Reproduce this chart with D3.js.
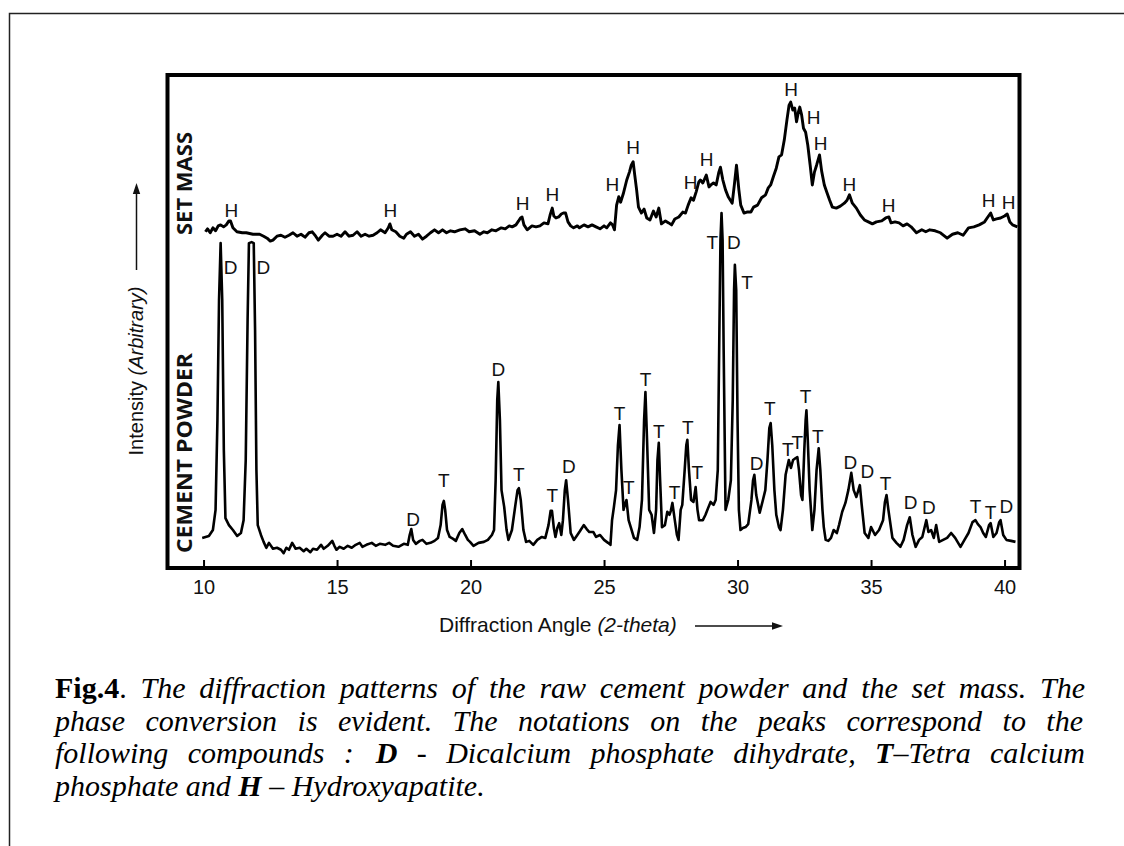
<!DOCTYPE html>
<html>
<head>
<meta charset="utf-8">
<script src="https://cdn.jsdelivr.net/npm/d3@7"></script>
<style>
html, body { margin: 0; padding: 0; background: #fff; }
svg { display: block; }
</style>
</head>
<body>
<svg id="chart" width="1124" height="846"></svg>
<script>
'use strict';

/* global d3 */

// diffraction angle (2-theta) ticks
var xTicks = [10, 15, 20, 25, 30, 35, 40];

// [2-theta, intensity (arbitrary, stacked)]
var cementPowder = [
    [9.95, 6.1], [10.2, 6.5], [10.35, 7.7], [10.45, 11.8], [10.52, 30], [10.58, 54.4], [10.64, 65.9],
    [10.70, 54.4], [10.76, 23.9], [10.82, 10.1], [10.95, 8.7], [11.1, 7.7], [11.26, 6.5], [11.4, 7.1],
    [11.5, 9.7], [11.58, 21.9], [11.65, 50.3], [11.70, 65.9], [11.80, 66.1], [11.88, 65.9], [11.93, 48.3],
    [11.98, 19.9], [12.03, 8.7], [12.15, 6.7], [12.25, 5.3], [12.35, 4.1], [12.45, 5.1], [12.6, 3.9],
    [12.75, 4.1], [12.9, 3.7], [13.0, 3.0], [13.1, 4.1], [13.2, 3.7], [13.32, 5.1], [13.45, 3.9],
    [13.6, 4.1], [13.75, 3.4], [13.85, 3.9], [14.0, 3.2], [14.1, 3.9], [14.25, 3.7], [14.4, 4.7],
    [14.5, 3.9], [14.65, 4.5], [14.82, 5.5], [14.9, 4.5], [14.98, 3.7], [15.1, 4.3], [15.25, 3.9],
    [15.4, 4.5], [15.55, 4.1], [15.7, 4.7], [15.85, 5.1], [15.95, 4.3], [16.1, 4.7], [16.3, 5.1],
    [16.45, 4.5], [16.6, 4.9], [16.8, 4.7], [16.95, 5.1], [17.1, 4.5], [17.3, 4.3], [17.5, 4.9],
    [17.65, 4.7], [17.72, 6.7], [17.78, 7.9], [17.85, 5.7], [17.95, 4.9], [18.1, 5.5], [18.2, 5.7],
    [18.35, 4.9], [18.5, 5.1], [18.65, 5.5], [18.78, 6.1], [18.88, 8.7], [18.95, 12.8], [19.0, 13.6],
    [19.05, 11.8], [19.12, 7.7], [19.22, 6.3], [19.35, 5.9], [19.45, 5.5], [19.58, 7.1], [19.69, 7.9],
    [19.8, 6.7], [19.9, 5.7], [19.98, 5.3], [20.11, 4.5], [20.3, 5.1], [20.5, 5.3], [20.65, 5.7],
    [20.8, 6.7], [20.88, 7.7], [20.94, 17.8], [21.0, 34.1], [21.04, 37.7], [21.1, 30], [21.16, 15.8],
    [21.26, 12.4], [21.35, 7.7], [21.42, 5.7], [21.55, 7.7], [21.68, 12.8], [21.76, 15.8], [21.81, 16.2],
    [21.88, 13.8], [21.98, 7.7], [22.08, 5.3], [22.2, 5.5], [22.35, 4.7], [22.5, 5.7], [22.67, 6.3],
    [22.8, 6.1], [22.92, 8.7], [23.0, 11.6], [23.05, 11.6], [23.12, 8.1], [23.18, 6.3], [23.25, 8.1],
    [23.32, 9.1], [23.4, 6.7], [23.46, 9.7], [23.53, 15.8], [23.58, 17.8], [23.65, 13.8], [23.75, 7.1],
    [23.87, 5.7], [24.0, 6.7], [24.1, 7.5], [24.24, 8.7], [24.35, 7.9], [24.45, 7.3], [24.6, 7.3],
    [24.7, 6.3], [24.85, 6.7], [25.0, 5.7], [25.15, 5.1], [25.24, 4.7], [25.3, 9.7], [25.37, 12.4],
    [25.45, 15.8], [25.52, 24.9], [25.58, 29], [25.65, 19.9], [25.73, 11.8], [25.78, 12.8], [25.84, 13.8],
    [25.92, 9.7], [26.0, 8.3], [26.12, 6.1], [26.24, 5.7], [26.33, 8.3], [26.42, 13.8], [26.5, 30],
    [26.55, 35.7], [26.61, 26], [26.69, 11.8], [26.78, 10.8], [26.87, 7.1], [26.95, 11.8], [27.0, 21.9],
    [27.05, 25.4], [27.1, 17.8], [27.17, 8.3], [27.28, 8.7], [27.37, 11.4], [27.45, 10.8], [27.5, 11.6],
    [27.56, 13.2], [27.65, 9.7], [27.73, 6.7], [27.79, 5.7], [27.87, 11.8], [27.93, 12.8], [28.02, 19.9],
    [28.08, 24.9], [28.12, 26], [28.18, 19.9], [28.26, 13.8], [28.35, 13.4], [28.43, 16.4], [28.5, 11.8],
    [28.56, 9.7], [28.7, 9.7], [28.8, 10.8], [28.9, 12.2], [28.99, 13.4], [29.1, 12.8], [29.18, 13.8],
    [29.26, 19.9], [29.32, 48.3], [29.36, 66.5], [29.40, 72], [29.44, 66.5], [29.48, 44.2], [29.55, 11.8],
    [29.65, 13.8], [29.75, 17.8], [29.82, 34.1], [29.87, 56.4], [29.9, 61.5], [29.95, 56.4], [30.0, 30],
    [30.05, 11.8], [30.11, 7.7], [30.2, 8.1], [30.3, 8.3], [30.4, 8.9], [30.52, 13.8], [30.58, 17.8],
    [30.63, 18.9], [30.7, 14.8], [30.83, 11.2], [30.95, 13.8], [31.04, 15.8], [31.12, 21.9], [31.19, 28.4],
    [31.24, 29.4], [31.3, 24.9], [31.38, 15.8], [31.45, 10.8], [31.55, 8.3], [31.61, 7.7], [31.7, 11.8],
    [31.8, 18.9], [31.92, 21.9], [32.0, 20.3], [32.08, 21.9], [32.18, 22.3], [32.24, 22.5], [32.3, 19.9],
    [32.38, 14.8], [32.43, 13.8], [32.5, 23.9], [32.55, 30], [32.58, 32], [32.63, 26], [32.7, 15.8],
    [32.8, 7.7], [32.88, 11.8], [32.96, 19.9], [33.04, 24.3], [33.1, 19.9], [33.18, 11.8], [33.23, 8.3],
    [33.3, 5.7], [33.4, 5.5], [33.5, 6.1], [33.6, 7.7], [33.72, 7.1], [33.8, 8.7], [33.92, 11.4],
    [34.04, 13.2], [34.15, 15.8], [34.26, 19.3], [34.35, 15.8], [34.45, 14.4], [34.58, 16.8], [34.65, 12.8],
    [34.76, 7.1], [34.9, 6.1], [35.0, 8.3], [35.15, 6.7], [35.3, 7.7], [35.45, 9.7], [35.52, 13.4],
    [35.58, 14.8], [35.65, 11.8], [35.8, 6.1], [35.95, 5.1], [36.1, 4.3], [36.22, 5.7], [36.35, 8.7],
    [36.45, 10.3], [36.55, 6.7], [36.67, 4.3], [36.8, 5.7], [36.92, 6.3], [37.07, 9.7], [37.15, 7.3],
    [37.25, 7.7], [37.35, 6.1], [37.44, 8.7], [37.55, 5.3], [37.7, 5.7], [37.85, 6.1], [38.0, 7.1],
    [38.15, 6.1], [38.35, 4.3], [38.5, 5.7], [38.65, 7.1], [38.8, 9.3], [38.91, 9.7], [39.0, 8.9],
    [39.1, 8.3], [39.2, 7.1], [39.3, 6.3], [39.42, 8.7], [39.48, 9.1], [39.58, 6.3], [39.7, 7.1],
    [39.8, 9.3], [39.85, 9.7], [39.95, 6.7], [40.07, 5.7], [40.25, 5.5], [40.41, 5.3]
];

var setMass = [
    [10.07, 68.2], [10.15, 68.8], [10.25, 68], [10.35, 69], [10.45, 68.4], [10.55, 69.4], [10.64, 69.6],
    [10.75, 69.2], [10.85, 69.6], [10.95, 70.4], [11.01, 70.4], [11.1, 69], [11.25, 68.2], [11.45, 68],
    [11.6, 68], [11.85, 67.7], [12.1, 67.7], [12.25, 67.3], [12.38, 66.9], [12.5, 66.3], [12.6, 66.5],
    [12.75, 67.3], [12.9, 67.5], [13.05, 67.1], [13.2, 67.5], [13.35, 68], [13.5, 67.3], [13.65, 67.7],
    [13.8, 67.1], [13.95, 68], [14.07, 68.2], [14.2, 67.3], [14.3, 66.5], [14.45, 67.5], [14.55, 68],
    [14.7, 67.3], [14.85, 67.3], [15.0, 67.7], [15.15, 67.3], [15.3, 68.2], [15.45, 67.3], [15.6, 67.5],
    [15.75, 68.2], [15.9, 67.3], [16.05, 67.7], [16.2, 67.3], [16.35, 67.5], [16.5, 68], [16.63, 68.6],
    [16.8, 68], [16.92, 69], [16.98, 69.8], [17.05, 68.6], [17.2, 68.2], [17.35, 67.3], [17.5, 66.9],
    [17.6, 67.7], [17.75, 68.2], [17.9, 67.3], [18.05, 67.7], [18.2, 66.7], [18.35, 67.3], [18.5, 68],
    [18.65, 68.6], [18.8, 68], [18.95, 68.6], [19.1, 68], [19.25, 68.4], [19.4, 68.2], [19.6, 68.6],
    [19.8, 68.8], [19.95, 68.2], [20.15, 68.4], [20.35, 67.7], [20.5, 68.2], [20.63, 68], [20.8, 68.6],
    [20.95, 68.4], [21.15, 69], [21.3, 68.8], [21.45, 69.4], [21.56, 69.2], [21.7, 69.6], [21.8, 70.4],
    [21.87, 71], [21.93, 71.2], [22.0, 69.6], [22.12, 68.6], [22.3, 69.4], [22.45, 69.2], [22.6, 69.4],
    [22.75, 70], [22.9, 69.8], [22.98, 71.6], [23.06, 73], [23.12, 71.4], [23.2, 71], [23.3, 71.2],
    [23.4, 71.8], [23.48, 72], [23.56, 72], [23.65, 70.2], [23.75, 69.4], [23.86, 69], [24.0, 69.4],
    [24.08, 69], [24.25, 69.6], [24.4, 69.2], [24.55, 69.6], [24.7, 69.2], [24.85, 68.8], [25.0, 69.4],
    [25.1, 69], [25.24, 70], [25.32, 69.6], [25.39, 68.6], [25.47, 73.6], [25.55, 75.3], [25.62, 74.2],
    [25.72, 75.9], [25.85, 78.7], [25.95, 80.3], [26.02, 81.7], [26.09, 82.4], [26.15, 79.7], [26.22, 76.7],
    [26.29, 73.2], [26.4, 72], [26.5, 72.8], [26.6, 71], [26.72, 70.6], [26.85, 72.4], [26.95, 71.2],
    [27.05, 73], [27.15, 69.8], [27.3, 70.4], [27.42, 70], [27.53, 69.6], [27.65, 70.8], [27.8, 71.2],
    [27.95, 72.2], [28.05, 72], [28.15, 73.6], [28.26, 75.1], [28.35, 74.6], [28.45, 76.3], [28.55, 78.3],
    [28.61, 78.7], [28.7, 78.1], [28.83, 79.7], [28.93, 77.3], [29.0, 77.7], [29.1, 78.1], [29.2, 77.7],
    [29.3, 80.3], [29.36, 81.3], [29.45, 78.7], [29.55, 76.7], [29.65, 75.3], [29.8, 74], [29.88, 77.7],
    [29.96, 81.7], [30.05, 76.7], [30.12, 73.6], [30.24, 72], [30.35, 72.2], [30.5, 72.2], [30.6, 73.2],
    [30.75, 73.6], [30.9, 75.1], [31.05, 75.7], [31.15, 77.1], [31.24, 77.7], [31.35, 79.5], [31.45, 81.1],
    [31.55, 83.4], [31.65, 83.8], [31.75, 86.8], [31.85, 90.9], [31.93, 93.9], [31.99, 94.5], [32.07, 92.9],
    [32.14, 93.3], [32.21, 90.5], [32.28, 92.5], [32.33, 93.5], [32.4, 91.9], [32.47, 89.2], [32.55, 88.4],
    [32.63, 85.8], [32.72, 81.7], [32.8, 77.7], [32.88, 80.3], [32.96, 81.7], [33.07, 83.8], [33.15, 80.5],
    [33.25, 77.7], [33.35, 76.1], [33.45, 74.6], [33.55, 73.2], [33.7, 73], [33.85, 73.4], [34.0, 74],
    [34.1, 74.6], [34.19, 75.7], [34.3, 74], [34.45, 73], [34.6, 71.6], [34.75, 70.6], [34.9, 70.2],
    [35.05, 69.8], [35.2, 70.2], [35.4, 70.4], [35.55, 71], [35.67, 71.2], [35.75, 70], [35.9, 70.2],
    [36.05, 70], [36.2, 69.4], [36.35, 69.8], [36.5, 69.2], [36.7, 68], [36.9, 68.6], [37.05, 68.2],
    [37.2, 68.6], [37.4, 68.4], [37.6, 68], [37.85, 66.9], [38.05, 67.7], [38.25, 68], [38.45, 67.5],
    [38.65, 69], [38.85, 69.2], [39.05, 69.6], [39.25, 70.2], [39.4, 71.4], [39.48, 72], [39.58, 70.6],
    [39.7, 70.8], [39.85, 71], [40.0, 71.4], [40.1, 71.8], [40.2, 70.2], [40.3, 69.6], [40.48, 69.2]
];

// peak notations: [letter, 2-theta, intensity level of the letter]
var cementPeaks = [
    ["D", 11.01, 60.9], ["D", 12.24, 60.9], ["D", 17.85, 9.9], ["T", 19.0, 17.8], ["D", 21.04, 40.2],
    ["T", 21.81, 18.9], ["T", 23.06, 14.8], ["D", 23.68, 20.5], ["T", 25.58, 31.4], ["T", 25.93, 16.4],
    ["T", 26.55, 38.3], ["T", 27.05, 27.6], ["T", 27.64, 15.4], ["T", 28.14, 28.6], ["T", 28.49, 19.3],
    ["T", 29.05, 66.1], ["D", 29.86, 66.1], ["T", 30.36, 58], ["D", 30.71, 21.1], ["T", 31.21, 32.3],
    ["T", 31.88, 24.1], ["T", 32.24, 25.4], ["T", 32.55, 34.7], ["T", 33.01, 26.6], ["D", 34.23, 21.5],
    ["D", 34.86, 19.5], ["T", 35.54, 17.2], ["D", 36.48, 13.2], ["D", 37.17, 12.2], ["T", 38.91, 12.4],
    ["T", 39.48, 11.2], ["D", 40.07, 12.4]
];

var setMassPeaks = [
    ["H", 11.04, 72.6], ["H", 17.0, 72.6], ["H", 21.95, 74], ["H", 23.06, 75.7], ["H", 25.31, 77.7],
    ["H", 26.09, 85.2], ["H", 28.24, 78.1], ["H", 28.84, 82.8], ["H", 32.01, 97], ["H", 32.85, 91.3],
    ["H", 33.11, 86.2], ["H", 34.19, 77.7], ["H", 35.66, 73.6], ["H", 39.40, 74.6], ["H", 40.15, 74.2]
];

// caption, one array of [text, style, gap before] runs per printed line
var captionLines = [
    [["Fig.4", "b"], [". ", "n"], ["The diffraction patterns of the raw cement powder and the set mass. The", "i"]],
    [["phase conversion is evident. The notations on the peaks correspond to the", "i"]],
    [["following compounds :", "i"], ["D", "bi", 22], [" - Dicalcium phosphate dihydrate, ", "i"], ["T", "bi"], ["\u2013Tetra calcium", "i"]],
    [["phosphate and ", "i"], ["H", "bi"], [" \u2013 Hydroxyapatite.", "i"]]
];

var SANS = "'Liberation Sans', Arial, Helvetica, sans-serif";
var SERIF = "'Liberation Serif', 'Times New Roman', serif";
var HEAD = "'Open Sans', 'DejaVu Sans', sans-serif";

var svg = d3.select("#chart");

var x = d3.scaleLinear().domain([8.65, 40.56]).range([167.5, 1019.5]);
var y = d3.scaleLinear().domain([0, 100]).range([568, 75]);

// page border (scan edge)
svg.append("rect")
    .attr("x", 9.5).attr("y", 13.5)
    .attr("width", 1200).attr("height", 900)
    .attr("fill", "none")
    .attr("stroke", "#222")
    .attr("stroke-width", 1.5);

var line = d3.line()
    .x(function (d) { return x(d[0]); })
    .y(function (d) { return y(d[1]); });

[[cementPowder, 2.6], [setMass, 2.9]].forEach(function (s) {
    svg.append("path")
        .datum(s[0])
        .attr("d", line)
        .attr("fill", "none")
        .attr("stroke", "#000")
        .attr("stroke-width", s[1])
        .attr("stroke-linejoin", "round");
});

function peakLetters(rows) {
    svg.append("g").selectAll("text")
        .data(rows)
        .enter()
        .append("text")
        .attr("x", function (d) { return x(d[1]); })
        .attr("y", function (d) { return y(d[2]); })
        .attr("text-anchor", "middle")
        .attr("dominant-baseline", "central")
        .style("font-family", SANS)
        .style("font-size", "19px")
        .attr("fill", "#111")
        .text(function (d) { return d[0]; });
}
peakLetters(cementPeaks);
peakLetters(setMassPeaks);

// x axis, ticks pointing into the plot
var gx = svg.append("g")
    .attr("transform", "translate(0," + y(0) + ")")
    .call(d3.axisBottom(x)
        .tickValues(xTicks)
        .tickSizeInner(-8)
        .tickSizeOuter(0)
        .tickPadding(12)
        .tickFormat(d3.format("d")));
gx.select(".domain").remove();
gx.selectAll(".tick line").attr("stroke", "#000").attr("stroke-width", 2);
gx.selectAll(".tick text")
    .attr("fill", "#111")
    .style("font-family", SANS)
    .style("font-size", "20px");

// plot frame
svg.append("rect")
    .attr("x", x.range()[0]).attr("y", y(100))
    .attr("width", x.range()[1] - x.range()[0])
    .attr("height", y(0) - y(100))
    .attr("fill", "none")
    .attr("stroke", "#000")
    .attr("stroke-width", 4);

// axis titles with arrows
var xt = svg.append("text")
    .attr("x", 439).attr("y", 632)
    .style("font-family", SANS)
    .style("font-size", "21px")
    .attr("fill", "#111");
xt.append("tspan").text("Diffraction Angle ");
xt.append("tspan").style("font-style", "italic").text("(2-theta)");

svg.append("line")
    .attr("x1", 695).attr("y1", 626).attr("x2", 776).attr("y2", 626)
    .attr("stroke", "#111").attr("stroke-width", 1.5);
svg.append("path")
    .attr("d", "M783,626 L772,622.3 L772,629.7 Z")
    .attr("fill", "#111");

var yt = svg.append("text")
    .attr("transform", "translate(143,371) rotate(-90)")
    .attr("text-anchor", "middle")
    .style("font-family", SANS)
    .style("font-size", "20px")
    .attr("fill", "#111");
yt.append("tspan").text("Intensity ");
yt.append("tspan").style("font-style", "italic").text("(Arbitrary)");

svg.append("line")
    .attr("x1", 136.5).attr("y1", 270).attr("x2", 136.5).attr("y2", 191)
    .attr("stroke", "#111").attr("stroke-width", 1.5);
svg.append("path")
    .attr("d", "M136.5,183 L132.8,194 L140.2,194 Z")
    .attr("fill", "#111");

// pattern names
[["SET MASS", 183.5, 103], ["CEMENT POWDER", 453, 200]].forEach(function (d) {
    svg.append("text")
        .attr("transform", "translate(191.5," + d[1] + ") rotate(-90)")
        .attr("text-anchor", "middle")
        .attr("textLength", d[2])
        .attr("lengthAdjust", "spacingAndGlyphs")
        .style("font-family", HEAD)
        .style("font-size", "21px")
        .style("font-weight", "bold")
        .attr("fill", "#111")
        .text(d[0]);
});

// caption in Times italic, justified like the printed figure
var capLeft = 55, capRight = 1085;
captionLines.forEach(function (runs, i) {
    var t = svg.append("text")
        .attr("x", capLeft)
        .attr("y", 698 + i * 32.5)
        .style("white-space", "pre")
        .style("font-family", SERIF)
        .style("font-size", "30px")
        .attr("fill", "#000");
    runs.forEach(function (r) {
        var s = t.append("tspan").text(r[0]);
        if (r[1] === "b" || r[1] === "bi") s.style("font-weight", "bold");
        if (r[1] === "i" || r[1] === "bi") s.style("font-style", "italic");
        if (r[2]) s.attr("dx", r[2]);
    });
    if (i < captionLines.length - 1) {
        var natural = t.node().getBBox().width;
        var text = runs.map(function (r) { return r[0]; }).join("");
        var gaps = (text.match(/ /g) || []).length;
        t.style("word-spacing", ((capRight - capLeft - natural) / gaps) + "px");
    }
});
</script>
</body>
</html>
